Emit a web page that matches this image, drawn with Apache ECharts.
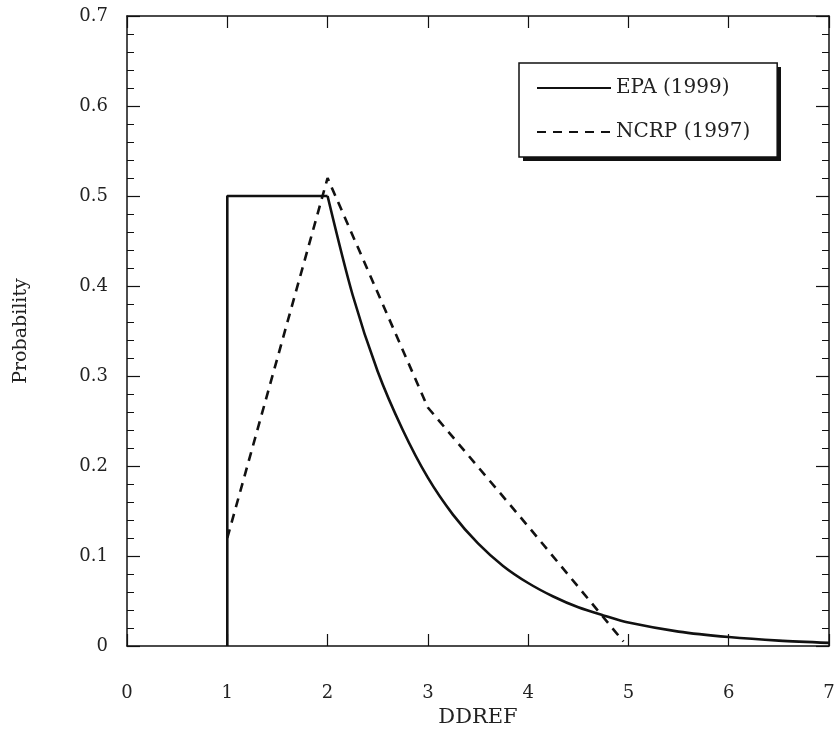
<!DOCTYPE html>
<html>
<head>
<meta charset="utf-8">
<script src="https://cdn.jsdelivr.net/npm/echarts@6/dist/echarts.min.js"></script>
<style>html,body{margin:0;padding:0;background:#fff;}#chart{width:838px;height:737px;}</style>
</head>
<body>
<div id="chart"></div>
<script>
var xTickLabels = ['0', '1', '2', '3', '4', '5', '6', '7'];
var yTickLabels = ['0', '0.1', '0.2', '0.3', '0.4', '0.5', '0.6', '0.7'];
var seriesNames = ['EPA (1999)', 'NCRP (1997)'];
// EPA: uniform part (step) and decaying tail
var epaStep = [[1, 0], [1, 0.5], [2, 0.5]];
var epaTail = [
  [2, 0.5], [2.25, 0.39], [2.5, 0.305], [2.75, 0.24],
  [3, 0.187], [3.25, 0.146], [3.5, 0.114], [3.75, 0.089], [4, 0.070], [4.25, 0.055],
  [4.5, 0.043], [4.75, 0.034], [5, 0.026], [5.5, 0.016], [6, 0.010], [6.5, 0.006], [7, 0.0035]
];
var ncrpData = [
  [1, 0.12], [2, 0.52], [3, 0.265], [4, 0.133], [4.95, 0.005]
];

var font = 'DejaVu Serif';
var chart = echarts.init(document.getElementById('chart'));
var axisLineStyle = { color: '#111', width: 1.5 };
var tickStyle = { color: '#111', width: 1.2 };
var option = {
  backgroundColor: '#fff',
  animation: false,
  grid: { left: 127, right: 9, top: 16, bottom: 91 },
  graphic: [{
    type: 'rect', z: 1, silent: true,
    shape: { x: 523, y: 67, width: 258, height: 94 },
    style: { fill: '#111' }
  }],
  legend: {
    orient: 'vertical',
    left: 519,
    top: 63,
    z: 10,
    padding: [15, 27, 15, 17],
    itemWidth: 74,
    itemHeight: 14,
    itemGap: 24,
    backgroundColor: '#fff',
    borderColor: '#111',
    borderWidth: 1.5,
    itemStyle: { opacity: 0 },
    textStyle: { fontFamily: font, fontSize: 20, color: '#222' },
    data: seriesNames
  },
  xAxis: [{
    type: 'value', min: 0, max: 7, interval: 1,
    position: 'bottom',
    name: 'DDREF', nameLocation: 'middle', nameGap: 60,
    nameTextStyle: { fontFamily: font, fontSize: 21, color: '#222' },
    axisLine: { show: true, onZero: false, lineStyle: axisLineStyle },
    axisTick: { show: true, inside: true, length: 12, lineStyle: tickStyle },
    axisLabel: { margin: 38, fontFamily: font, fontSize: 18, color: '#222',
      formatter: function (v) { return xTickLabels[Math.round(v)]; } },
    splitLine: { show: false }
  }, {
    type: 'value', min: 0, max: 7, interval: 1,
    position: 'top',
    axisLine: { show: true, onZero: false, lineStyle: axisLineStyle },
    axisTick: { show: true, inside: true, length: 12, lineStyle: tickStyle },
    axisLabel: { show: false },
    splitLine: { show: false }
  }],
  yAxis: [{
    type: 'value', min: 0, max: 0.7, interval: 0.1,
    position: 'left',
    name: 'Probability', nameLocation: 'middle', nameGap: 96,
    nameTextStyle: { fontFamily: font, fontSize: 19, color: '#222' },
    axisLine: { show: true, onZero: false, lineStyle: axisLineStyle },
    axisTick: { show: true, inside: true, length: 13, lineStyle: tickStyle },
    minorTick: { show: true, splitNumber: 5, length: 7, lineStyle: { color: '#111', width: 1 } },
    axisLabel: { margin: 19, fontFamily: font, fontSize: 18, color: '#222',
      formatter: function (v) { return yTickLabels[Math.round(v * 10)]; } },
    splitLine: { show: false }
  }, {
    type: 'value', min: 0, max: 0.7, interval: 0.1,
    position: 'right',
    axisLine: { show: true, onZero: false, lineStyle: axisLineStyle },
    axisTick: { show: true, inside: true, length: 13, lineStyle: tickStyle },
    minorTick: { show: true, splitNumber: 5, length: 7, lineStyle: { color: '#111', width: 1 } },
    axisLabel: { show: false },
    splitLine: { show: false }
  }],
  series: [{
    name: seriesNames[0], type: 'line', data: epaStep,
    showSymbol: false, symbol: 'none', smooth: false,
    lineStyle: { color: '#111', width: 2.6, type: 'solid' },
    itemStyle: { color: '#111' }
  }, {
    name: seriesNames[0], type: 'line', data: epaTail,
    showSymbol: false, symbol: 'none', smooth: 0.3,
    lineStyle: { color: '#111', width: 2.6, type: 'solid' },
    itemStyle: { color: '#111' }
  }, {
    name: seriesNames[1], type: 'line', data: ncrpData,
    showSymbol: false, symbol: 'none', smooth: false,
    lineStyle: { color: '#111', width: 2.6, type: [9, 7] },
    itemStyle: { color: '#111' }
  }]
};
chart.setOption(option);
</script>
</body>
</html>
